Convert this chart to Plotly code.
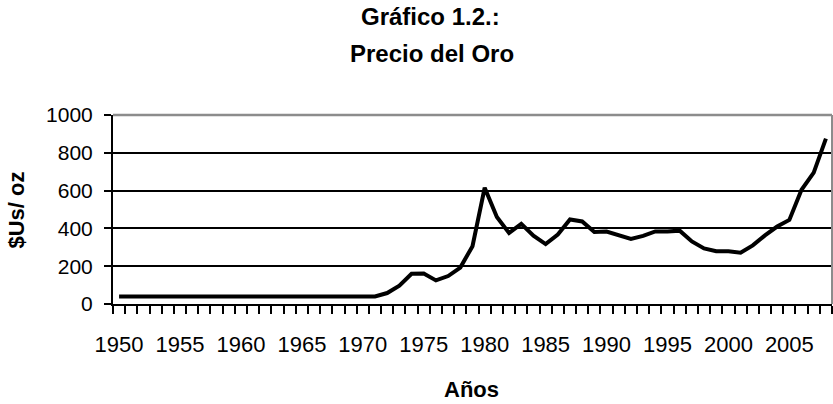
import plotly.graph_objects as go

years = list(range(1950, 2009))
price = [40] * 22 + [  # 1950-1971
    58, 97, 160, 161, 125, 148, 193, 306, 615,      # 1972-1980
    460, 376, 424, 361, 317, 368, 447, 437, 381, 383,  # 1981-1990
    362, 344, 360, 384, 384, 388, 331, 294, 279, 279,  # 1991-2000
    271, 310, 363, 410, 445, 604, 695, 875]            # 2001-2008

x_tick_vals = list(range(1950, 2006, 5))
x_tick_text = [str(v) for v in x_tick_vals]
y_tick_vals = [0, 200, 400, 600, 800, 1000]

FONT = "Liberation Sans, Arial, sans-serif"
H = 404

fig = go.Figure()
fig.add_trace(go.Scatter(x=years, y=price, mode="lines",
                         line=dict(color="black", width=4), showlegend=False,
                         hoverinfo="skip"))

fig.update_layout(
    width=833, height=H,
    margin=dict(l=113, r=1, t=115, b=100),
    paper_bgcolor="white", plot_bgcolor="white",
    font=dict(family=FONT, color="black"),
    xaxis=dict(range=[1949.5, 2008.5], tickvals=x_tick_vals, ticktext=x_tick_text,
               ticks="", showgrid=False, zeroline=False,
               showline=True, linecolor="black", linewidth=2,
               tickfont=dict(size=22, family=FONT, color="black"),
               ticklabelstandoff=20,
               minor=dict(ticks="outside", tick0=1949.5, dtick=1, ticklen=8,
                          tickwidth=2, tickcolor="black", showgrid=False)),
    yaxis=dict(range=[0, 1000], tickvals=y_tick_vals,
               ticks="outside", ticklen=7, tickwidth=2, tickcolor="black",
               showgrid=True, gridcolor="black", gridwidth=2, zeroline=False,
               showline=True, linecolor="black", linewidth=2,
               tickfont=dict(size=21, family=FONT, color="black"),
               ticklabelstandoff=7),
    annotations=[
        dict(text="<b>Gráfico 1.2.:</b>", xref="paper", yref="paper",
             x=(430 - 113) / 719, y=(304.5 - 17) / 189.2,
             showarrow=False, xanchor="center", yanchor="middle",
             font=dict(size=24, family=FONT, color="black")),
        dict(text="<b>Precio del Oro</b>", xref="paper", yref="paper",
             x=(431.5 - 113) / 719, y=(304.5 - 54) / 189.2,
             showarrow=False, xanchor="center", yanchor="middle",
             font=dict(size=24, family=FONT, color="black")),
        dict(text="<b>$Us/ oz</b>", xref="paper", yref="paper",
             x=(17 - 113) / 719, y=(304.5 - 211) / 189.2, textangle=-90,
             showarrow=False, xanchor="center", yanchor="middle",
             font=dict(size=22, family=FONT, color="black")),
        dict(text="<b>Años</b>", xref="paper", yref="paper",
             x=(471 - 113) / 719, y=(304.5 - 390) / 189.2,
             showarrow=False, xanchor="center", yanchor="middle",
             font=dict(size=22, family=FONT, color="black")),
    ],
    shapes=[
        dict(type="line", xref="paper", yref="paper", x0=0, x1=1, y0=1, y1=1,
             line=dict(color="#8c8c8c", width=2.5), layer="above"),
        dict(type="line", xref="paper", yref="paper", x0=1, x1=1, y0=0, y1=1,
             line=dict(color="#8c8c8c", width=2), layer="above"),
    ],
)

fig.write_html("out.html", config={"displayModeBar": False},
               post_script="document.body.style.margin='0px';document.body.style.overflow='hidden';")
